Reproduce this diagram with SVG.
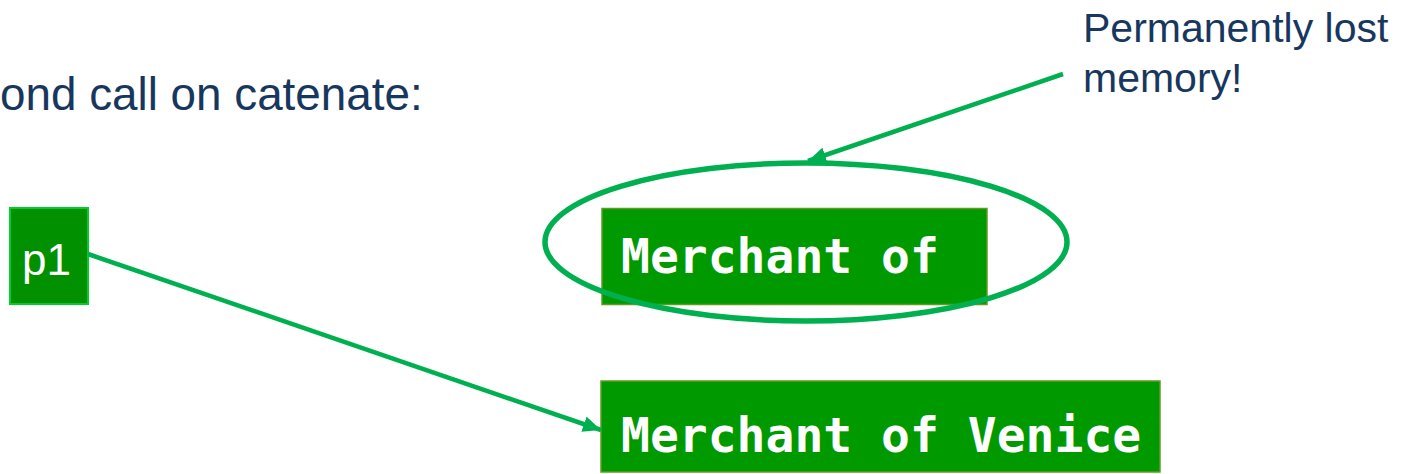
<svg xmlns="http://www.w3.org/2000/svg" width="1418" height="474" viewBox="0 0 1418 474">
  <style>
    .label { font-family: "Liberation Sans", Arial, sans-serif; fill: #17375E; }
    .mono { font-family: "DejaVu Sans Mono", "Liberation Mono", monospace; font-weight: bold; font-size: 48px; fill: #FFFFFF; }
    .strbox { fill: #009900; stroke: #5E9C25; stroke-width: 1.5; }
    .conn { stroke: #00B050; stroke-width: 4.5; fill: none; }
  </style>
  <defs>
    <marker id="arrow" markerUnits="userSpaceOnUse" markerWidth="20" markerHeight="16" refX="18" refY="8" orient="auto">
      <path d="M0,0 L18,8 L0,16 Z" fill="#00B050"/>
    </marker>
  </defs>
  <rect width="1418" height="474" fill="#FFFFFF"/>

  <text class="label" x="0" y="110" font-size="45.8">ond call on catenate:</text>

  <g id="note">
    <text class="label" x="1083" y="42" font-size="41">Permanently lost</text>
    <text class="label" x="1083" y="92" font-size="41">memory!</text>
  </g>

  <g id="p1">
    <rect x="10" y="208" width="78" height="96" fill="#009000" stroke="#00CC33" stroke-width="2"/>
    <text x="22" y="275" font-family="Liberation Sans, Arial, sans-serif" font-size="44" fill="#FFFFFF">p1</text>
  </g>

  <g id="old-string">
    <rect class="strbox" x="602" y="208.5" width="385" height="96"/>
    <text class="mono" x="621" y="273" xml:space="preserve">Merchant of </text>
  </g>

  <g id="new-string">
    <rect class="strbox" x="601" y="381" width="559" height="91"/>
    <text class="mono" x="621" y="452">Merchant of Venice</text>
  </g>

  <g id="lost-ellipse">
    <ellipse cx="806" cy="242" rx="261" ry="79" fill="none" stroke="#00B050" stroke-width="5.5"/>
  </g>

  <g id="connectors">
    <line class="conn" x1="1063" y1="74" x2="808" y2="161" marker-end="url(#arrow)"/>
    <line class="conn" x1="88" y1="254" x2="601" y2="430" marker-end="url(#arrow)"/>
  </g>
</svg>
